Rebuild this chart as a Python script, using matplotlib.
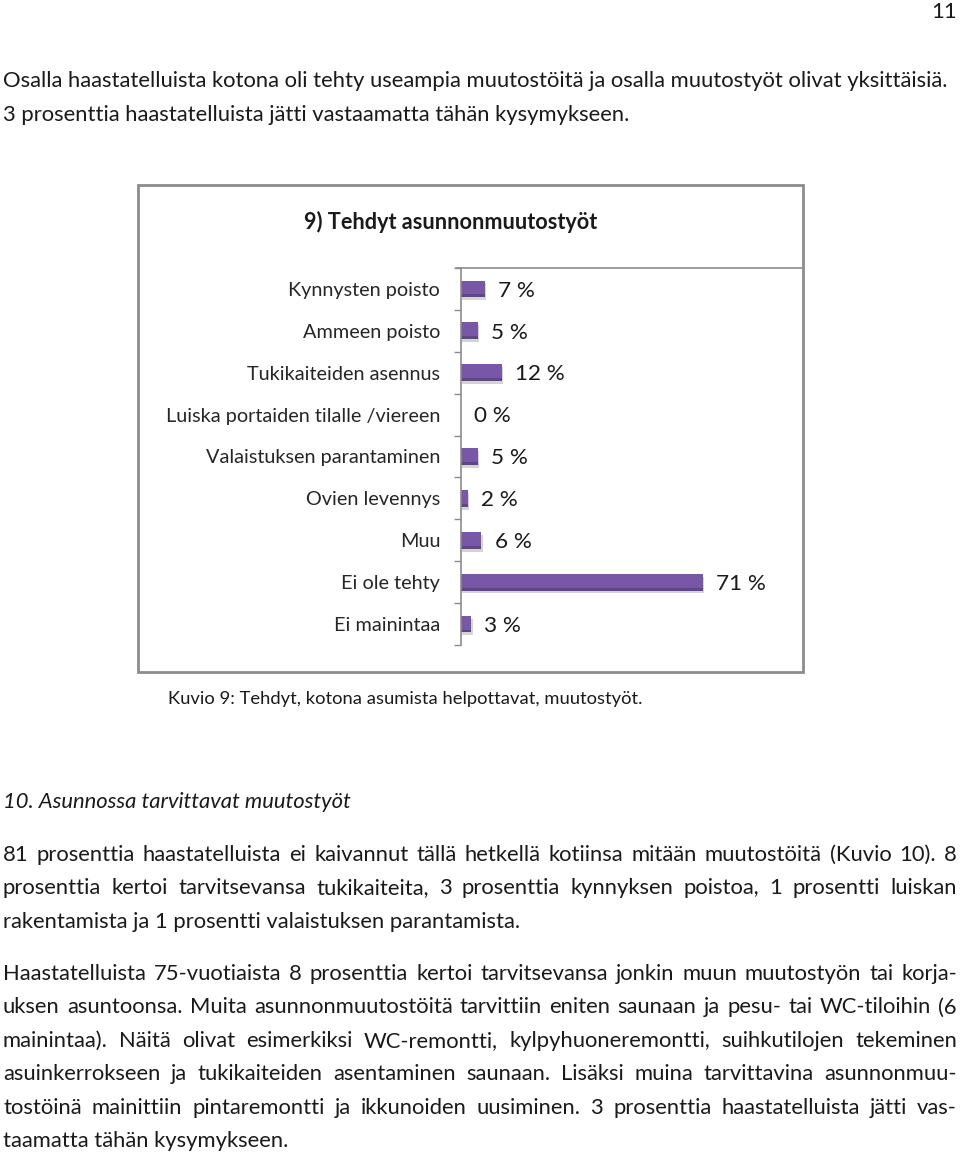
import matplotlib
matplotlib.use('Agg')
import matplotlib.pyplot as plt
from matplotlib.patches import Rectangle
from matplotlib.ticker import FixedLocator, NullFormatter

# ---------------- data ----------------
categories = ["Kynnysten poisto", "Ammeen poisto", "Tukikaiteiden asennus",
              "Luiska portaiden tilalle /viereen", "Valaistuksen parantaminen",
              "Ovien levennys", "Muu", "Ei ole tehty", "Ei mainintaa"]
values = [7, 5, 12, 0, 5, 2, 6, 71, 3]
value_labels = [f"{v} %" for v in values]

chart_title = "9) Tehdyt asunnonmuutostyöt"
caption = "Kuvio 9: Tehdyt, kotona asumista helpottavat, muutostyöt."
heading = "10. Asunnossa tarvittavat muutostyöt"
page_number = "11"

intro_lines = [
    "Osalla haastatelluista kotona oli tehty useampia muutostöitä ja osalla muutostyöt olivat yksittäisiä.",
    "3 prosenttia haastatelluista jätti vastaamatta tähän kysymykseen.",
]
para2_lines = [
    "81 prosenttia haastatelluista ei kaivannut tällä hetkellä kotiinsa mitään muutostöitä (Kuvio 10). 8",
    "prosenttia kertoi tarvitsevansa tukikaiteita, 3 prosenttia kynnyksen poistoa, 1 prosentti luiskan",
    "rakentamista ja 1 prosentti valaistuksen parantamista.",
]
para3_lines = [
    "Haastatelluista 75-vuotiaista 8 prosenttia kertoi tarvitsevansa jonkin muun muutostyön tai korja-",
    "uksen asuntoonsa. Muita asunnonmuutostöitä tarvittiin eniten saunaan ja pesu- tai WC-tiloihin (6",
    "mainintaa). Näitä olivat esimerkiksi WC-remontti, kylpyhuoneremontti, suihkutilojen tekeminen",
    "asuinkerrokseen ja tukikaiteiden asentaminen saunaan. Lisäksi muina tarvittavina asunnonmuu-",
    "tostöinä mainittiin pintaremontti ja ikkunoiden uusiminen. 3 prosenttia haastatelluista jätti vas-",
    "taamatta tähän kysymykseen.",
]

# ---------------- style ----------------
plt.rcParams['font.family'] = ['Lato', 'DejaVu Sans']
TXT = '#1a1a1a'
BAR = '#7858a6'
BAR_DARK = '#5f4688'
GRAY = '#8c8c8c'
W, H = 960, 1154
LEFT, RIGHT = 3, 957

fig = plt.figure(figsize=(W / 100, H / 100), dpi=100)
page = fig.add_axes([0, 0, 1, 1])
page.set_xlim(0, W)
page.set_ylim(H, 0)
page.axis('off')
renderer = fig.canvas.get_renderer()


def text_width(s, fs, **kw):
    t = page.text(0, 0, s, fontsize=fs, **kw)
    w = t.get_window_extent(renderer).width
    t.remove()
    return w


def fit(s, target, **kw):
    return 10 * target / text_width(s, 10, **kw)


body_fs = fit(intro_lines[0], 945)


def draw_line(s, y, justify):
    if not justify:
        page.text(LEFT, y, s, fontsize=body_fs, va='baseline', ha='left', color=TXT)
        return
    words = s.split(' ')
    widths = [text_width(w, body_fs) for w in words]
    gap = (RIGHT - LEFT - sum(widths)) / (len(words) - 1)
    x = LEFT
    for w, wd in zip(words, widths):
        page.text(x, y, w, fontsize=body_fs, va='baseline', ha='left', color=TXT)
        x += wd + gap


# page number
page.text(957, 18, page_number, fontsize=body_fs, ha='right', va='baseline', color=TXT)

# intro
for i, ln in enumerate(intro_lines):
    draw_line(ln, 87 + 34 * i, False)

# chart frame
page.add_patch(Rectangle((138, 185), 665, 487, fill=False, edgecolor=GRAY, lw=2))
title_fs = fit(chart_title, 293, fontweight='bold')
page.text(451, 222, chart_title, fontsize=title_fs, fontweight='bold',
          ha='center', va='center', color=TXT)
page.plot([456, 803], [268, 268], color=GRAY, lw=1.2)

# caption
cap_fs = fit(caption, 474)
page.text(168, 704, caption, fontsize=cap_fs, ha='left', va='baseline', color=TXT)

# heading
page.text(LEFT, 808, heading, fontsize=body_fs, fontstyle='italic',
          ha='left', va='baseline', color=TXT)

for i, ln in enumerate(para2_lines):
    draw_line(ln, 861 + 33.5 * i, i < len(para2_lines) - 1)
for i, ln in enumerate(para3_lines):
    draw_line(ln, 980 + 33.4 * i, i < len(para3_lines) - 1)

# ---------------- bar chart ----------------
ax_l, ax_r, ax_t, ax_b = 461, 802, 268, 645
ax = fig.add_axes([ax_l / W, 1 - ax_b / H, (ax_r - ax_l) / W, (ax_b - ax_t) / H])
ax.patch.set_alpha(0)
ypos = list(range(len(categories)))
bh = 0.40
# soft shadow
ax.barh([y + 0.07 for y in ypos], values, height=bh, left=0.4, color='#d4d4d4', lw=0, zorder=2)
ax.barh(ypos, values, height=bh, color=BAR, lw=0, zorder=3)
ax.barh([y + bh / 2 - 0.035 for y in ypos], values, height=0.07, color=BAR_DARK, lw=0, zorder=4)
ax.set_xlim(0, 100)
ax.set_ylim(len(categories) - 0.5, -0.5)
for side in ['right', 'bottom', 'top']:
    ax.spines[side].set_visible(False)
ax.spines['left'].set_color(GRAY)
ax.spines['left'].set_linewidth(1.2)
ax.spines['left'].set_zorder(5)
ax.set_xticks([])
ax.set_yticks(ypos)
cat_fs = fit(categories[3], 275)
ax.set_yticklabels(categories, fontsize=cat_fs, color='#262626')
ax.yaxis.set_minor_locator(FixedLocator([i - 0.5 for i in range(len(categories) + 1)]))
ax.yaxis.set_minor_formatter(NullFormatter())
ax.tick_params(axis='y', which='major', length=0, pad=15)
ax.tick_params(axis='y', which='minor', length=5, color=GRAY, width=1)

val_fs = fit("12 %", 50)
for y, v, lab in zip(ypos, values, value_labels):
    ax.annotate(lab, (v, y + 0.04), xytext=(9.5, 0), textcoords='offset points',
                ha='left', va='center', fontsize=val_fs, color='#1a1a1a')

fig.savefig('out.png', dpi=100, facecolor='white')
